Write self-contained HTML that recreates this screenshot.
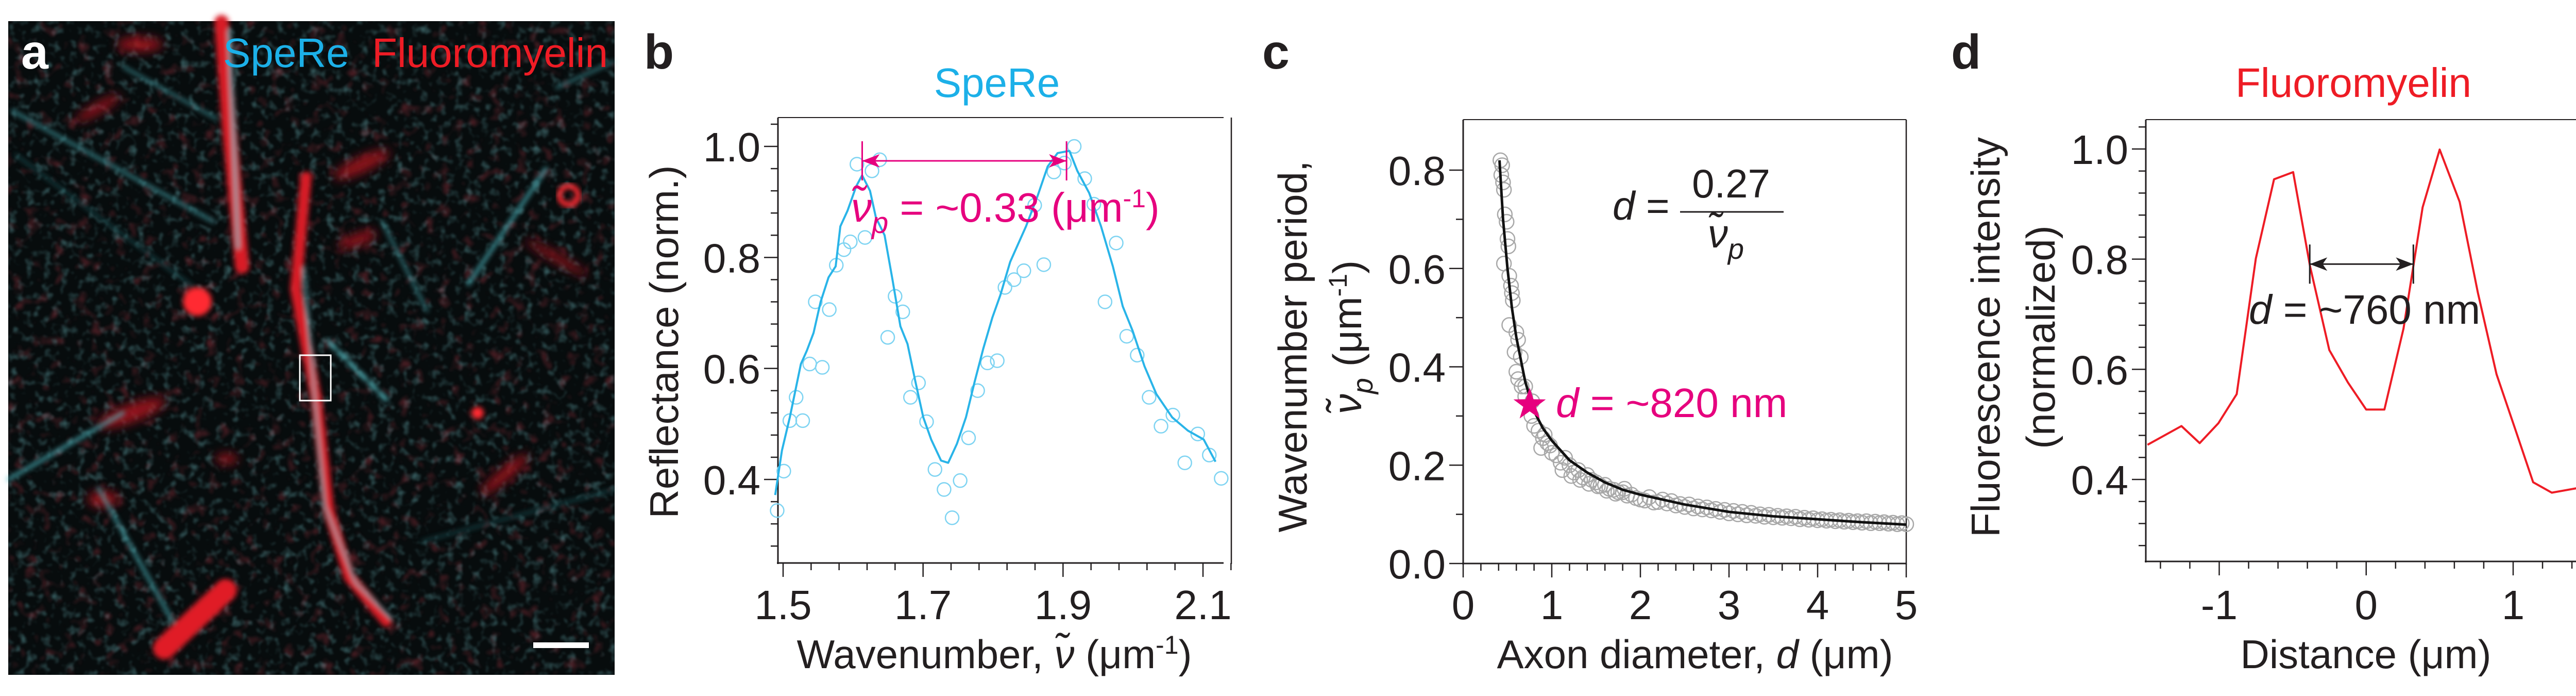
<!DOCTYPE html>
<html><head><meta charset="utf-8"><style>
html,body{margin:0;padding:0;background:#fff;}
svg{display:block;font-family:"Liberation Sans",Arial,sans-serif;}
</style></head><body>
<svg id="fig" width="5045" height="1350" viewBox="0 0 5045 1350">
<defs>
<filter id="blur4" x="-20%" y="-20%" width="140%" height="140%"><feGaussianBlur stdDeviation="5"/></filter>
<filter id="blur8" x="-20%" y="-20%" width="140%" height="140%"><feGaussianBlur stdDeviation="10"/></filter>
<filter id="noiseC" x="0" y="0" width="100%" height="100%">
<feTurbulence type="fractalNoise" baseFrequency="0.06" numOctaves="2" seed="3" result="n"/>
<feColorMatrix in="n" type="matrix" values="0 0 0 0 0.15  0 0 0 0 0.45  0 0 0 0 0.48  2.2 0 0 0 -1.15"/>
<feGaussianBlur stdDeviation="1.5"/>
</filter>
<filter id="noiseR" x="0" y="0" width="100%" height="100%">
<feTurbulence type="fractalNoise" baseFrequency="0.04" numOctaves="2" seed="11" result="n"/>
<feColorMatrix in="n" type="matrix" values="0 0 0 0 0.6  0 0 0 0 0.05  0 0 0 0 0.08  0 2.2 0 0 -1.25"/>
<feGaussianBlur stdDeviation="2"/>
</filter>
</defs>
<g>
<rect x="16" y="41" width="1177" height="1268" fill="#070c0d"/>
<rect x="16" y="41" width="1177" height="1268" filter="url(#noiseC)" opacity="0.55"/>
<rect x="16" y="41" width="1177" height="1268" filter="url(#noiseR)" opacity="0.5"/>
<g filter="url(#blur8)" fill="#c01820" opacity="0.75">
<ellipse cx="271" cy="86" rx="45" ry="14"/>
<ellipse cx="255" cy="801" rx="70" ry="18" transform="rotate(-20 255 801)"/>
<ellipse cx="702" cy="319" rx="60" ry="15" transform="rotate(-25 702 319)"/>
<ellipse cx="694" cy="465" rx="40" ry="12" transform="rotate(-20 694 465)"/>
<ellipse cx="190" cy="210" rx="50" ry="10" transform="rotate(-30 190 210)"/>
<ellipse cx="980" cy="920" rx="60" ry="12" transform="rotate(-40 980 920)"/>
<ellipse cx="1080" cy="500" rx="70" ry="8" transform="rotate(30 1080 500)"/>
<ellipse cx="200" cy="968" rx="30" ry="16"/>
<ellipse cx="440" cy="890" rx="22" ry="10"/>
</g>
<g filter="url(#blur4)" fill="none" stroke-linecap="round">
<path d="M430 43 L445 250 L470 517" stroke="#d81e28" stroke-width="28"/>
<path d="M594 344 L574 560 L614 775 L638 990 L678 1119 L750 1205" stroke="#d81e28" stroke-width="22"/>
<path d="M319 1257 L438 1145" stroke="#e01e28" stroke-width="44"/>
<path d="M24 215 L415 430" stroke="#4fbcc4" stroke-width="6" opacity="0.7"/>
<path d="M1060 327 L909 551" stroke="#4fbcc4" stroke-width="7" opacity="0.8"/>
<path d="M638 663 L750 775" stroke="#5fd0d8" stroke-width="7" stroke-dasharray="18 10"/>
<path d="M16 930 L239 801" stroke="#4fbcc4" stroke-width="7" opacity="0.8"/>
<path d="M191 947 L335 1205" stroke="#4fbcc4" stroke-width="7" opacity="0.7"/>
<path d="M742 430 L829 603" stroke="#4fbcc4" stroke-width="5" opacity="0.7"/>
<path d="M445 60 L462 480" stroke="#6fd6de" stroke-width="7" opacity="0.7"/>
<path d="M590 520 L610 760 L630 980 L690 1130 L760 1200" stroke="#6fd6de" stroke-width="5" opacity="0.7"/>
<path d="M240 130 L420 230" stroke="#4fbcc4" stroke-width="5" opacity="0.7"/>
<path d="M1080 170 L1190 120" stroke="#4fbcc4" stroke-width="5" opacity="0.7"/>
<path d="M820 1050 L1190 950" stroke="#2f8890" stroke-width="4" opacity="0.6"/>
<path d="M30 300 L380 560" stroke="#2f8890" stroke-width="4" opacity="0.6"/>
</g>
<g filter="url(#blur4)" fill="#ff2a30">
<circle cx="383" cy="585" r="28"/>
<circle cx="927" cy="801" r="12"/>
</g>
<circle cx="1104" cy="379" r="18" fill="none" stroke="#ff2a30" stroke-width="10" filter="url(#blur4)"/>
<rect x="582" y="689" width="60" height="88" fill="none" stroke="#fff" stroke-width="3"/>
<rect x="1035" y="1246" width="108" height="11" fill="#fff"/>
<text x="41" y="133" font-size="95" font-weight="bold" fill="#fff">a</text>
<text x="433" y="130" font-size="80" fill="#1cb0e8">SpeRe</text>
<text x="722" y="130" font-size="80" fill="#ee1c25">Fluoromyelin</text>
</g>
<g id="plots"></g>
</svg>
<script>
// ---------- Panel b data ----------
const bScatterX=[1.4915,1.501,1.5096,1.5186,1.528,1.538,1.546,1.556,1.566,1.576,1.587,1.596,1.6055,1.617,1.627,1.638,1.6495,1.660,1.671,1.682,1.6935,1.705,1.717,1.730,1.7415,1.753,1.765,1.778,1.792,1.806,1.817,1.830,1.844,1.8595,1.8725,1.887,1.902,1.916,1.931,1.944,1.960,1.976,1.991,2.006,2.023,2.040,2.057,2.074,2.0925,2.109,2.126];
const bScatterY=[0.344,0.415,0.506,0.548,0.506,0.608,0.72,0.602,0.706,0.786,0.814,0.828,0.968,0.836,0.956,0.976,0.656,0.73,0.702,0.548,0.574,0.504,0.418,0.382,0.331,0.398,0.475,0.56,0.61,0.614,0.746,0.76,0.776,0.894,0.787,0.954,0.970,1.0,0.942,0.896,0.72,0.826,0.658,0.624,0.548,0.496,0.516,0.430,0.482,0.444,0.402];
const bFitX=[1.4887,1.4983,1.5096,1.5254,1.5339,1.5435,1.5536,1.5649,1.5751,1.5818,1.592,1.6044,1.6129,1.6242,1.6326,1.645,1.6563,1.6676,1.6778,1.6891,1.7003,1.7116,1.7257,1.7359,1.7483,1.7613,1.7737,1.7861,1.7991,1.8104,1.8245,1.8358,1.8471,1.864,1.8781,1.8922,1.9091,1.9204,1.9374,1.9543,1.9712,1.9853,1.9994,2.0164,2.0333,2.0559,2.0784,2.101,2.1179];
const bFitY=[0.372,0.452,0.512,0.608,0.632,0.664,0.72,0.764,0.784,0.856,0.884,0.928,0.948,0.92,0.872,0.84,0.76,0.676,0.644,0.576,0.512,0.472,0.434,0.430,0.464,0.512,0.576,0.636,0.692,0.732,0.792,0.824,0.856,0.912,0.964,0.988,0.992,0.956,0.916,0.856,0.784,0.712,0.668,0.604,0.554,0.512,0.488,0.472,0.432];
const bXTicks=[1.5,1.7,1.9,2.1];
const bXTickLabels=["1.5","1.7","1.9","2.1"];
const bYTicks=[0.4,0.6,0.8,1.0];
const bYTickLabels=["0.4","0.6","0.8","1.0"];
const bPeriod=[1.613,1.905];
const bPeriodLevel=0.974;

// ---------- Panel c data ----------
const cScatterX=[0.42,0.44,0.43,0.45,0.46,0.47,0.49,0.50,0.51,0.46,0.52,0.54,0.55,0.56,0.52,0.60,0.62,0.58,0.65,0.60,0.62,0.66,0.70,0.70,0.78,0.77,0.80,0.85,0.90,0.95,0.88,1.00,1.05,1.10,1.15,1.20,1.25,1.30,1.35,1.40,1.45,1.50,1.55,1.60,1.65,1.70,1.75,1.80,1.85,1.90,1.95,2.00,2.05,2.10,2.15,2.20,2.30,2.40,2.50,2.60,2.70,2.80,2.90,3.00,3.10,3.20,3.30,3.40,3.50,3.60,3.70,3.80,3.90,4.00,4.10,4.20,4.30,4.40,4.50,4.60,4.70,4.80,4.90,5.00,2.25,2.35,2.45,2.55,2.65,2.75,2.85,2.95,3.05,3.15,3.25,3.35,3.45,3.55,3.65,3.75,3.85,3.95,4.05,4.15,4.25,4.35,4.45,4.55,4.65,4.75,4.85,4.95,1.12,1.22,1.32,1.42,1.52,1.62,1.72,1.82,0.92,0.98];
const cScatterY=[0.82,0.81,0.79,0.775,0.76,0.71,0.695,0.66,0.645,0.61,0.585,0.565,0.55,0.535,0.485,0.47,0.455,0.43,0.42,0.39,0.375,0.36,0.36,0.34,0.33,0.30,0.28,0.27,0.255,0.245,0.235,0.225,0.22,0.205,0.215,0.20,0.185,0.19,0.175,0.18,0.17,0.165,0.158,0.16,0.152,0.15,0.145,0.145,0.138,0.14,0.133,0.13,0.128,0.135,0.124,0.125,0.122,0.118,0.115,0.112,0.11,0.108,0.105,0.102,0.10,0.098,0.097,0.095,0.094,0.093,0.092,0.09,0.089,0.088,0.087,0.086,0.085,0.084,0.083,0.082,0.082,0.081,0.08,0.08,0.13,0.127,0.121,0.12,0.116,0.114,0.111,0.109,0.107,0.105,0.103,0.1,0.099,0.097,0.096,0.095,0.093,0.092,0.09,0.089,0.088,0.087,0.086,0.086,0.085,0.084,0.083,0.082,0.19,0.178,0.17,0.162,0.157,0.148,0.142,0.152,0.262,0.24];
const cFitX=[0.41,0.45,0.5,0.55,0.6,0.7,0.8,0.9,1.0,1.2,1.4,1.6,1.8,2.0,2.5,3.0,3.5,4.0,4.5,5.0];
const cFitY=[0.82,0.70,0.60,0.52,0.46,0.37,0.31,0.275,0.25,0.21,0.185,0.165,0.15,0.14,0.12,0.105,0.096,0.09,0.084,0.079];
const cXTicks=[0,1,2,3,4,5];
const cXTickLabels=["0","1","2","3","4","5"];
const cYTicks=[0,0.2,0.4,0.6,0.8];
const cYTickLabels=["0.0","0.2","0.4","0.6","0.8"];
const cStarX=[0.75];
const cStarY=[0.323];

// ---------- Panel d data ----------
const dX=[-1.488,-1.257,-1.133,-1.006,-0.881,-0.751,-0.627,-0.497,-0.382,-0.251,-0.124,0,0.124,0.254,0.384,0.5,0.636,0.760,0.887,1.012,1.136,1.263,1.494];
const dY=[0.463,0.497,0.466,0.502,0.555,0.801,0.945,0.958,0.787,0.635,0.576,0.527,0.527,0.674,0.894,0.999,0.904,0.739,0.591,0.493,0.395,0.376,0.387];
const dXTicks=[-1,0,1];
const dXTickLabels=["-1","0","1"];
const dYTicks=[0.4,0.6,0.8,1.0];
const dYTickLabels=["0.4","0.6","0.8","1.0"];
const dWidth=[-0.384,0.321];
const dWidthLevel=0.791;

const NS="http://www.w3.org/2000/svg";
const root=document.getElementById("plots");
const AX="#231f20";
function mk(tag,attrs,parent,text){
  const e=document.createElementNS(NS,tag);
  for(const k in attrs) e.setAttribute(k,attrs[k]);
  if(text!==undefined) e.textContent=text;
  (parent||root).appendChild(e);
  return e;
}
function lin(d0,d1,p0,p1){return v=>p0+(v-d0)*(p1-p0)/(d1-d0);}
function ticks(a,b,s){const r=[];for(let v=a;v<=b+1e-9;v+=s)r.push(Math.round(v*1000)/1000);return r;}

function frame(g,L,R,T,B,rightX){
  let e;
  e=mk("line",{x1:L,y1:T,x2:L,y2:B+2,stroke:AX,"stroke-width":3},g);
  
  
  e=mk("line",{x1:L-2,y1:B,x2:R,y2:B,stroke:AX,"stroke-width":3},g);
  
  
  e=mk("line",{x1:L,y1:T,x2:R,y2:T,stroke:AX,"stroke-width":2},g);
  
  
  e=mk("line",{x1:rightX,y1:T,x2:rightX,y2:B+2,stroke:AX,"stroke-width":2.5},g);
  
  
}
function yAxis(g,sy,L,minor,major,labels){
  minor.forEach(v=>{
    const isMaj=major.some(m=>Math.abs(m-v)<1e-6);
    const t=mk("line",{x1:L-(isMaj?27:14),y1:sy(v),x2:L,y2:sy(v),stroke:AX,"stroke-width":2.5},g);
    
    
  });
  major.forEach((v,i)=>{
    const t=mk("text",{x:L-34,y:sy(v)+29,"font-size":80,"text-anchor":"end",fill:AX},g,labels[i]);
    
    
  });
}
function xAxis(g,sx,B,minor,major,labels){
  minor.forEach(v=>{
    const isMaj=major.some(m=>Math.abs(m-v)<1e-6);
    const t=mk("line",{x1:sx(v),y1:B,x2:sx(v),y2:B+(isMaj?27:14),stroke:AX,"stroke-width":2.5},g);
    
    
  });
  major.forEach((v,i)=>{
    const t=mk("text",{x:sx(v),y:1201,"font-size":80,"text-anchor":"middle",fill:AX},g,labels[i]);
    
    
  });
}
function arrowHead(g,x,y,dir,color){
  const p=mk("path",{d:`M${x} ${y} L${x-dir*34} ${y-13} L${x-dir*25} ${y} L${x-dir*34} ${y+13} Z`,fill:color},g);
  
  
}
function dimension(g,x1,x2,y,color){
  let e=mk("line",{x1:x1,y1:y,x2:x2,y2:y,stroke:color,"stroke-width":3},g);
  
  
  arrowHead(g,x1,y,-1,color);
  arrowHead(g,x2,y,1,color);
  [x1,x2].forEach(x=>{
    const b=mk("line",{x1:x,y1:y-38,x2:x,y2:y+38,stroke:color,"stroke-width":3},g);
    
    
  });
}

// ===== Panel b =====
(function(){
  const g=mk("g",{});
  
  
  const sx=lin(1.5,2.1,1520,2335), sy=lin(0.4,1.0,930,284);
  const L=1510,R=2375,T=228,B=1092;
  frame(g,L,R,T,B,2390);
  yAxis(g,sy,L,ticks(0.28,1.04,0.04),bYTicks,bYTickLabels);
  xAxis(g,sx,B,ticks(1.5,2.14,0.04).filter(v=>sx(v)<=R+16),bXTicks,bXTickLabels);
  bScatterX.forEach((x,i)=>{
    const c=mk("circle",{cx:sx(x),cy:sy(bScatterY[i]),r:13,fill:"none",stroke:"#7fd4f2","stroke-width":2.5},g);
    
    
  });
  const ln=mk("polyline",{points:bFitX.map((x,i)=>sx(x)+","+sy(bFitY[i])).join(" "),fill:"none",stroke:"#29b4e8","stroke-width":4,"stroke-linejoin":"round"},g);
  
  
  dimension(g,sx(bPeriod[0]),sx(bPeriod[1]),sy(bPeriodLevel),"#e6007e");
  const a=mk("text",{x:1652,y:430,"font-size":80,fill:"#e6007e"},g);
  
  
  a.innerHTML='<tspan font-style="italic">ν̃</tspan><tspan font-style="italic" font-size="58" dy="22">p</tspan><tspan dy="-22"> = ~0.33 (μm</tspan><tspan font-size="50" dy="-28">-1</tspan><tspan dy="28">)</tspan>';
  let t=mk("text",{x:1935,y:188,"font-size":80,"text-anchor":"middle",fill:"#1cb0e8"},g,"SpeRe");
  
  
  t=mk("text",{x:0,y:0,"font-size":78,"text-anchor":"middle",fill:AX,transform:"translate(1316 663) rotate(-90)"},g,"Reflectance (norm.)");
  
  
  t=mk("text",{x:1930,y:1296,"font-size":78,"text-anchor":"middle",fill:AX},g);
  
  
  t.innerHTML='Wavenumber, <tspan font-style="italic">ν̃</tspan> (μm<tspan font-size="50" dy="-28">-1</tspan><tspan dy="28">)</tspan>';
  t=mk("text",{x:1250,y:133,"font-size":95,"font-weight":"bold",fill:AX},g,"b");
  
  
})();

// ===== Panel c =====
(function(){
  const g=mk("g",{});
  
  
  const sx=lin(0,5,2840,3700), sy=lin(0,0.8,1093,330);
  const L=2840,R=3700,T=232,B=1093;
  frame(g,L,R,T,B,R);
  yAxis(g,sy,L,ticks(0,0.8,0.1),cYTicks,cYTickLabels);
  xAxis(g,sx,B,ticks(0,5,0.2),cXTicks,cXTickLabels);
  cScatterX.forEach((x,i)=>{
    const c=mk("circle",{cx:sx(x),cy:sy(cScatterY[i]),r:14,fill:"none",stroke:"#a8a8a8","stroke-width":2.5},g);
    
    
  });
  const ln=mk("polyline",{points:cFitX.map((x,i)=>sx(x)+","+sy(cFitY[i])).join(" "),fill:"none",stroke:"#111","stroke-width":5,"stroke-linejoin":"round"},g);
  
  
  cStarX.forEach((x,i)=>{
    const cx=sx(x),cy=sy(cStarY[i]);let pts=[];
    for(let k=0;k<10;k++){const r=k%2?13:33;const ang=-Math.PI/2+k*Math.PI/5;pts.push((cx+r*Math.cos(ang)).toFixed(1)+","+(cy+r*Math.sin(ang)).toFixed(1));}
    const s=mk("polygon",{points:pts.join(" "),fill:"#e6007e"},g);
    
    
  });
  let t=mk("text",{x:3020,y:809,"font-size":80,fill:"#e6007e"},g);
  
  
  t.innerHTML='<tspan font-style="italic">d</tspan> = ~820 nm';
  t=mk("text",{x:3130,y:426,"font-size":78,fill:AX},g);
  
  
  t.innerHTML='<tspan font-style="italic">d</tspan> =';
  t=mk("text",{x:3360,y:383,"font-size":78,"text-anchor":"middle",fill:AX},g,"0.27");
  
  
  const fl=mk("line",{x1:3261,y1:411,x2:3462,y2:411,stroke:AX,"stroke-width":3},g);
  
  
  t=mk("text",{x:3350,y:480,"font-size":78,"text-anchor":"middle",fill:AX},g);
  
  
  t.innerHTML='<tspan font-style="italic">ν̃</tspan><tspan font-style="italic" font-size="56" dy="22">p</tspan>';
  t=mk("text",{x:0,y:0,"font-size":78,"text-anchor":"middle",fill:AX,transform:"translate(2536 672) rotate(-90)"},g,"Wavenumber period,");
  
  
  t=mk("text",{x:0,y:0,"font-size":78,"text-anchor":"middle",fill:AX,transform:"translate(2642 654) rotate(-90)"},g);
  
  
  t.innerHTML='<tspan font-style="italic">ν̃</tspan><tspan font-style="italic" font-size="56" dy="22">p</tspan><tspan dy="-22"> (μm</tspan><tspan font-size="50" dy="-28">-1</tspan><tspan dy="28">)</tspan>';
  t=mk("text",{x:3290,y:1296,"font-size":78,"text-anchor":"middle",fill:AX},g);
  
  
  t.innerHTML='Axon diameter, <tspan font-style="italic">d</tspan> (μm)';
  t=mk("text",{x:2450,y:133,"font-size":95,"font-weight":"bold",fill:AX},g,"c");
  
  
})();

// ===== Panel d =====
(function(){
  const g=mk("g",{});
  
  
  const sx=lin(-1,1,4307.5,4878), sy=lin(0.4,1.0,930,289);
  const L=4165,R=5019,T=232,B=1089;
  frame(g,L,R,T,B,R);
  yAxis(g,sy,L,ticks(0.28,1.04,0.04),dYTicks,dYTickLabels);
  xAxis(g,sx,B,ticks(-1.4,1.4,0.2),dXTicks,dXTickLabels);
  const ln=mk("polyline",{points:dX.map((x,i)=>sx(x)+","+sy(dY[i])).join(" "),fill:"none",stroke:"#ee1c25","stroke-width":4,"stroke-linejoin":"round"},g);
  
  
  dimension(g,sx(dWidth[0]),sx(dWidth[1]),sy(dWidthLevel),AX);
  let t=mk("text",{x:4365,y:628,"font-size":80,fill:AX},g);
  
  
  t.innerHTML='<tspan font-style="italic">d</tspan> = ~760 nm';
  t=mk("text",{x:4568,y:188,"font-size":80,"text-anchor":"middle",fill:"#ee1c25"},g,"Fluoromyelin");
  
  
  t=mk("text",{x:0,y:0,"font-size":78,"text-anchor":"middle",fill:AX,transform:"translate(3881 654) rotate(-90)"},g,"Fluorescence intensity");
  
  
  t=mk("text",{x:0,y:0,"font-size":78,"text-anchor":"middle",fill:AX,transform:"translate(3988 654) rotate(-90)"},g,"(normalized)");
  
  
  t=mk("text",{x:4592,y:1296,"font-size":78,"text-anchor":"middle",fill:AX},g,"Distance (μm)");
  
  
  t=mk("text",{x:3787,y:133,"font-size":95,"font-weight":"bold",fill:AX},g,"d");
  
  
})();
</script>
</body></html>
